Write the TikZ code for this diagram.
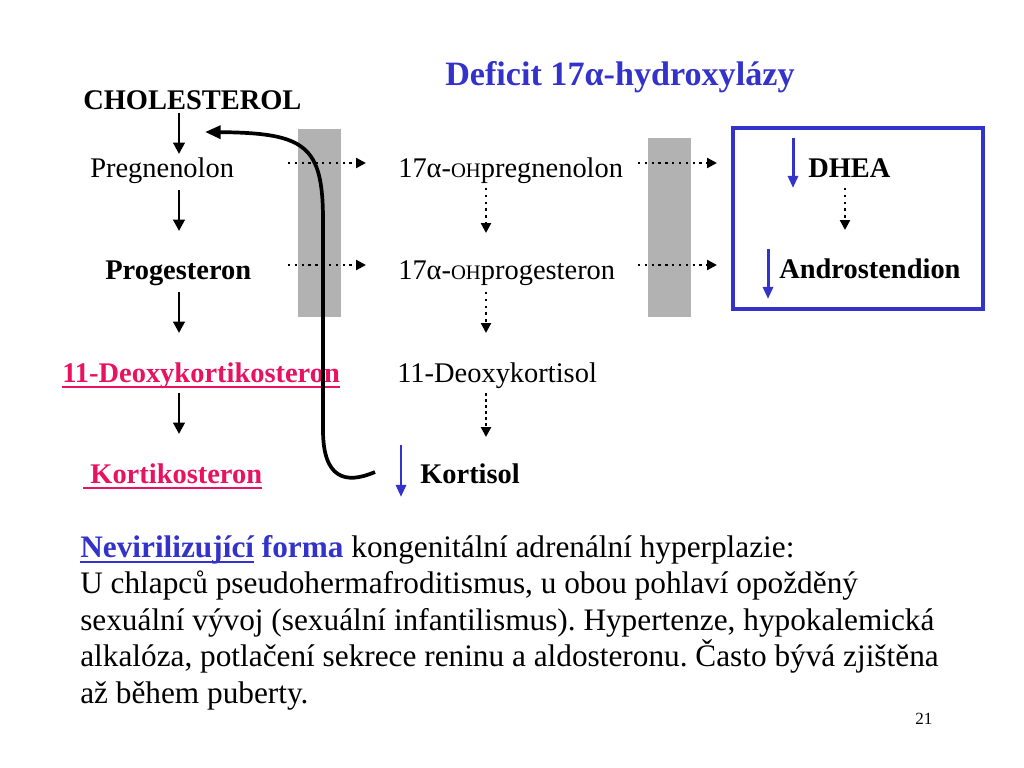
\documentclass[tikz,border=0pt]{standalone}
\usepackage{fontspec}
\setmainfont{Liberation Serif}
\usepackage{xcolor}
\usetikzlibrary{arrows.meta}
\frenchspacing

\definecolor{hblue}{RGB}{51,51,204}
\definecolor{hpink}{RGB}{233,18,96}
\definecolor{hgray}{RGB}{178,178,178}
\newcommand{\ulbar}[1]{\setbox0\hbox{#1}\rlap{\rule[-4.3pt]{\wd0}{1.6pt}}\box0\relax}
\newcommand{\ohs}{{\fontsize{14.5}{16}\selectfont OH}}

\tikzset{
  lbl/.style={anchor=base west, inner sep=0pt, font=\fontsize{20}{24}\selectfont},
  lblb/.style={lbl, font=\fontsize{20}{24}\selectfont\bfseries},
  bodyline/.style={anchor=base west, inner sep=0pt, font=\fontsize{22}{26}\selectfont},
  blkarr/.style={line width=2.1pt, -{Triangle[width=8pt,length=8pt]}},
  bluearr/.style={hblue, line width=2.1pt, -{Triangle[width=7pt,length=8.5pt]}},
  dotarr/.style={line width=1.6pt, dash pattern=on 1.6pt off 3.2pt, -{Triangle[width=7pt,length=7pt]}},
  densedot/.style={dash pattern=on 2pt off 2.2pt, line width=2pt},
  backarr/.style={line width=2.6pt, -{Triangle[width=9pt,length=11pt]}}
}

\begin{document}
\begin{tikzpicture}[x=0.703125pt, y=-0.703125pt]
\fill[white] (0,0) rectangle (1024,768);
\useasboundingbox (0,0) rectangle (1024,768);

% Blocking bars and box
\fill[hgray] (298,129) rectangle (341,317);
\fill[hgray] (648,138) rectangle (691,317);
\draw[hblue, line width=2.5pt] (733,128) rectangle (983,309);

% Title
\node[anchor=base west, inner sep=0pt, font=\fontsize{24}{28}\selectfont\bfseries, text=hblue] (title) at (445,86) {Deficit 17α-hydroxylázy};

% Left column
\node[lblb] (chol) at (83,110) {CHOLESTEROL};
\node[lbl] (preg) at (90,178) {Pregnenolon};
\node[lblb] (prog) at (105,280) {Progesteron};
\node[lblb, text=hpink] (doc) at (62,382) {\ulbar{11-Deoxykortikosteron}};
\node[lblb, text=hpink] (kort) at (83,483) {\ulbar{~Kortikosteron}};

% Middle column
\node[lbl] (ohpreg) at (398,178) {17α-\ohs pregnenolon};
\node[lbl] (ohprog) at (398,280) {17α-\ohs progesteron};
\node[lbl] (dcol) at (397,382) {11-Deoxykortisol};
\node[lblb] (kortisol) at (420,483) {Kortisol};

% Right box
\node[lblb] (dhea) at (808,178) {DHEA};
\node[lblb] (andro) at (779,279) {Androstendion};

% Column positions
\coordinate (aL) at (179,0);
\coordinate (aM) at (486,0);
\coordinate (g1) at (288,0);
\coordinate (g2) at (638,0);
\coordinate (ret) at (205,132);

% Arrows
\foreach \src/\dy in {chol/3, preg/12, prog/12, doc/11}
  \draw[blkarr] (\src.base -| aL) ++(0,\dy) -- ++(0,41);
\draw[dotarr] (ohpreg.base -| aM) ++(0,10) -- ++(0,45);
\draw[dotarr] (ohprog.base -| aM) ++(0,12) -- ++(0,41);
\draw[dotarr, densedot] (dcol.base -| aM) ++(0,11) -- ++(0,44);
\foreach \src in {preg, prog}
  \draw[dotarr] (\src.base -| g1) ++(0,-15) -- ++(78,0);
\foreach \src in {ohpreg, ohprog}
  \draw[dotarr] (\src.base -| g2) ++(0,-15) -- ++(79,0);
\draw[dotarr] (dhea.base west) ++(37,10) -- ++(0,42);
\draw[bluearr] (dhea.base west) ++(-15,-40) -- ++(0,50);
\draw[bluearr] (andro.base west) ++(-11,-30) -- ++(0,50);
\draw[bluearr] (kortisol.base west) ++(-19,-38) -- ++(0,52);

% Feedback curve
\draw[backarr] (kortisol.base west) ++(-45,-11) .. controls (345,485) and (323,478) .. (323,430)
  -- (323,220) .. controls (323,145) and (305,133) .. (ret);

% Description
\node[bodyline] (b1) at (80,557) {{\color{hblue}\bfseries\ulbar{Nevirilizující} forma} kongenitální adrenální hyperplazie:};
\node[bodyline] (b2) at (80,593) {U chlapců pseudohermafroditismus, u obou pohlaví opožděný};
\node[bodyline] (b3) at (80,630) {sexuální vývoj (sexuální infantilismus). Hypertenze, hypokalemická};
\node[bodyline] (b4) at (80,666) {alkalóza, potlačení sekrece reninu a aldosteronu. Často bývá zjištěna};
\node[bodyline] (b5) at (80,703) {až během puberty.};

% Page number
\node[anchor=base west, inner sep=0pt, font=\fontsize{12}{14}\selectfont] (pg) at (915,724) {21};
\end{tikzpicture}
\end{document}
